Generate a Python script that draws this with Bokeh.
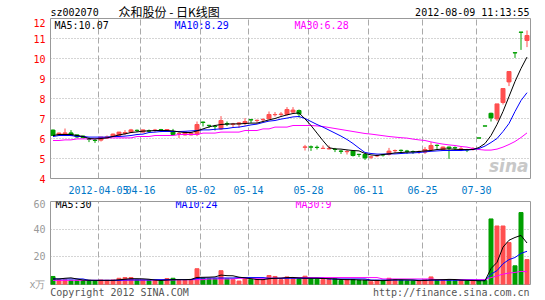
from bokeh.plotting import figure
from bokeh.models import Range1d, FixedTicker, Label, Grid, ColumnDataSource
from bokeh.layouts import column
from bokeh.embed import file_html
from bokeh.resources import INLINE

# ---- data ----
date_idx = [8, 15, 25, 33, 43, 53, 62, 71]
date_labels = ["2012-04-05", "04-16", "05-02", "05-14", "05-28", "06-11", "06-25", "07-30"]
price_ticks = [4, 5, 6, 7, 8, 9, 10, 11, 12]
vol_ticks = [0, 20, 40, 60]
vol_unit = "x万"

opens = [6.42, 6.18, 6.22, 6.28, 6.18, 6.12, 5.96, 5.91, 5.92, 6.03,
         6.10, 6.15, 6.25, 6.32, 6.41, 6.32, 6.38, 6.41, 6.44, 6.37,
         6.32, 6.24, 6.18, 6.18, 6.20, 6.82, 6.66, 6.61, 6.48, 6.74,
         6.71, 6.72, 6.75, 6.94, 6.90, 6.94, 6.98, 7.19, 7.20, 7.20,
         7.32, 7.40, 5.56, 5.58, 5.56, 5.50, 5.48, 5.46, 5.37, 5.34,
         5.37, 5.21, 5.20, 5.07, 5.13, 5.19, 5.20, 5.39, 5.41, 5.37,
         5.35, 5.34, 5.32, 5.45, 5.66, 5.43, 5.57, 5.54, 5.47, 5.44,
         5.47, 6.03, 6.63, 7.26, 6.98, 7.80, 8.83, 10.29, 11.32, 10.90]
highs = [6.45, 6.30, 6.50, 6.42, 6.20, 6.15, 6.05, 5.98, 6.08, 6.15,
         6.25, 6.33, 6.42, 6.48, 6.45, 6.45, 6.45, 6.48, 6.48, 6.47,
         6.48, 6.32, 6.35, 6.30, 6.85, 6.85, 6.68, 6.68, 7.12, 6.85,
         6.78, 6.82, 7.02, 6.98, 6.95, 7.02, 7.35, 7.32, 7.32, 7.57,
         7.57, 7.45, 5.68, 5.65, 5.65, 5.65, 5.65, 5.53, 5.43, 5.43,
         5.40, 5.23, 5.22, 5.13, 5.20, 5.23, 5.53, 5.45, 5.45, 5.43,
         5.40, 5.40, 5.57, 5.82, 5.70, 5.60, 5.60, 5.60, 5.57, 5.48,
         5.57, 6.03, 6.63, 7.29, 7.73, 8.50, 9.35, 10.29, 11.32, 11.40]
lows = [6.13, 6.15, 6.18, 6.12, 6.03, 6.00, 5.82, 5.78, 5.85, 5.98,
        6.08, 6.13, 6.18, 6.30, 6.32, 6.30, 6.30, 6.32, 6.32, 6.35,
        6.18, 6.02, 6.15, 6.15, 6.12, 6.60, 6.53, 6.40, 6.43, 6.62,
        6.57, 6.53, 6.65, 6.78, 6.78, 6.85, 6.98, 7.10, 7.12, 7.15,
        7.28, 7.05, 5.40, 5.38, 5.45, 5.50, 5.45, 5.32, 5.23, 5.20,
        5.10, 5.07, 4.93, 4.97, 5.07, 5.10, 5.15, 5.28, 5.28, 5.23,
        5.23, 5.23, 5.23, 5.37, 5.48, 5.40, 4.98, 5.40, 5.37, 5.32,
        5.40, 6.02, 6.62, 6.85, 6.87, 7.70, 8.62, 10.03, 10.43, 10.57]
closes = [6.15, 6.27, 6.28, 6.15, 6.08, 6.05, 5.95, 5.90, 6.07, 6.08,
          6.22, 6.32, 6.30, 6.43, 6.40, 6.43, 6.37, 6.42, 6.43, 6.45,
          6.20, 6.25, 6.32, 6.27, 6.70, 6.80, 6.65, 6.60, 6.90, 6.73,
          6.72, 6.78, 6.85, 6.93, 6.91, 6.95, 7.20, 7.20, 7.22, 7.45,
          7.42, 7.23, 5.58, 5.57, 5.55, 5.51, 5.50, 5.45, 5.36, 5.35,
          5.15, 5.20, 5.03, 5.08, 5.15, 5.18, 5.37, 5.40, 5.40, 5.36,
          5.34, 5.35, 5.45, 5.65, 5.65, 5.57, 5.52, 5.53, 5.48, 5.43,
          5.48, 6.02, 6.62, 7.03, 7.73, 8.50, 9.35, 10.28, 11.31, 11.15]
ma5 = [6.15, 6.20, 6.20, 6.20, 6.15, 6.10, 6.00, 5.98, 6.00, 6.03,
       6.10, 6.18, 6.23, 6.30, 6.33, 6.37, 6.38, 6.40, 6.40, 6.40,
       6.38, 6.33, 6.30, 6.30, 6.38, 6.48, 6.58, 6.65, 6.70, 6.72,
       6.73, 6.73, 6.75, 6.77, 6.77, 6.85, 6.93, 7.00, 7.10, 7.18,
       7.25, 7.28, 6.98, 6.65, 6.27, 5.89, 5.54, 5.48, 5.47, 5.43,
       5.40, 5.38, 5.25, 5.18, 5.15, 5.20, 5.23, 5.28, 5.30, 5.32,
       5.33, 5.35, 5.38, 5.40, 5.45, 5.47, 5.48, 5.46, 5.45, 5.45,
       5.45, 5.55, 5.75, 6.15, 6.70, 7.35, 8.10, 8.85, 9.50, 10.07]
ma10 = [6.10, 6.15, 6.15, 6.15, 6.10, 6.10, 6.07, 6.07, 6.07, 6.07,
        6.10, 6.10, 6.12, 6.15, 6.20, 6.22, 6.30, 6.32, 6.35, 6.35,
        6.35, 6.35, 6.36, 6.38, 6.40, 6.43, 6.43, 6.46, 6.48, 6.50,
        6.55, 6.57, 6.62, 6.68, 6.72, 6.80, 6.87, 6.90, 6.97, 7.02,
        7.08, 7.10, 7.00, 6.85, 6.70, 6.57, 6.42, 6.27, 6.12, 5.95,
        5.75, 5.52, 5.30, 5.25, 5.22, 5.22, 5.23, 5.23, 5.25, 5.27,
        5.28, 5.30, 5.33, 5.36, 5.38, 5.40, 5.40, 5.40, 5.40, 5.42,
        5.45, 5.50, 5.62, 5.80, 6.00, 6.35, 6.75, 7.35, 7.90, 8.29]
ma30 = [5.90, 5.90, 5.93, 5.93, 5.98, 5.98, 5.98, 5.98, 6.03, 6.03,
        6.03, 6.03, 6.03, 6.03, 6.10, 6.10, 6.10, 6.15, 6.15, 6.15,
        6.15, 6.20, 6.20, 6.20, 6.20, 6.27, 6.27, 6.27, 6.32, 6.32,
        6.32, 6.32, 6.40, 6.40, 6.40, 6.48, 6.48, 6.57, 6.57, 6.57,
        6.65, 6.65, 6.65, 6.65, 6.63, 6.60, 6.55, 6.50, 6.45, 6.40,
        6.35, 6.30, 6.25, 6.22, 6.18, 6.14, 6.10, 6.07, 6.04, 6.02,
        5.97, 5.93, 5.90, 5.83, 5.77, 5.72, 5.68, 5.65, 5.60, 5.57,
        5.50, 5.45, 5.42, 5.42, 5.47, 5.57, 5.70, 5.85, 6.05, 6.28]
volumes = [5.8, 3.3, 3.3, 3.0, 3.0, 3.0, 3.0, 2.8, 3.2, 3.0,
           3.2, 4.5, 5.0, 5.0, 3.2, 3.0, 3.0, 3.0, 2.5, 4.3,
           4.5, 3.0, 3.2, 3.5, 11.4, 4.5, 4.0, 4.0, 10.0, 4.0,
           3.5, 2.5, 4.0, 3.5, 3.5, 3.5, 6.5, 5.8, 3.5, 5.5,
           4.5, 4.0, 6.0, 4.0, 3.8, 3.5, 3.5, 4.0, 3.0, 3.5,
           3.5, 3.0, 3.0, 2.0, 3.0, 3.0, 4.5, 3.5, 3.0, 2.5,
           2.5, 2.5, 3.5, 5.5, 3.0, 3.0, 3.5, 3.0, 3.0, 2.5,
           2.5, 2.5, 3.0, 47.4, 42.3, 42.3, 30.3, 13.5, 52.0, 18.0]
vma5 = [4.0, 4.0, 4.5, 4.8, 4.0, 3.2, 3.1, 3.0, 3.0, 3.0,
        3.0, 3.4, 3.8, 4.2, 4.2, 4.1, 3.8, 3.2, 2.9, 3.2,
        3.5, 3.5, 3.5, 3.7, 5.1, 5.2, 5.3, 5.5, 6.8, 6.4,
        6.3, 5.3, 4.8, 4.2, 3.6, 3.5, 4.2, 4.5, 4.6, 5.0,
        5.1, 4.7, 4.6, 4.5, 4.5, 4.3, 4.2, 4.0, 3.6, 3.5,
        3.5, 3.3, 3.2, 3.0, 2.9, 2.8, 3.1, 3.4, 3.4, 3.3,
        3.2, 2.8, 2.9, 3.3, 3.4, 3.5, 3.7, 3.6, 3.2, 3.0,
        2.9, 2.7, 2.7, 11.5, 16.0, 27.0, 32.0, 34.0, 35.5, 30.0]
vma10 = [4.0, 4.0, 4.0, 4.0, 4.0, 4.0, 3.0, 3.0, 3.0, 3.0,
         3.0, 3.0, 3.3, 3.3, 3.3, 3.3, 3.3, 3.5, 3.5, 3.5,
         3.5, 3.5, 3.5, 3.5, 4.3, 4.7, 4.7, 4.7, 4.7, 4.7,
         4.7, 5.0, 5.0, 5.0, 5.0, 5.0, 4.5, 4.5, 4.5, 4.5,
         4.5, 4.5, 4.5, 4.5, 4.5, 4.5, 4.0, 4.0, 4.0, 4.0,
         4.0, 4.0, 4.0, 3.2, 3.2, 3.2, 3.2, 3.2, 3.2, 3.2,
         3.2, 3.1, 3.1, 3.1, 3.1, 3.1, 3.1, 3.1, 3.1, 3.1,
         3.1, 3.0, 3.0, 7.5, 10.0, 15.0, 18.0, 19.5, 22.5, 24.0]
vma30 = [3.0, 3.0, 3.0, 3.0, 3.0, 3.0, 3.0, 3.0, 3.0, 3.0,
         3.0, 3.0, 3.0, 3.2, 3.2, 3.2, 3.2, 3.2, 3.2, 3.2,
         3.2, 3.5, 3.5, 3.5, 3.5, 3.5, 4.0, 4.0, 4.0, 4.0,
         4.0, 4.5, 4.5, 4.5, 4.5, 4.5, 4.5, 4.5, 4.5, 5.0,
         5.0, 5.0, 5.0, 5.0, 5.0, 5.0, 5.0, 5.0, 5.0, 5.0,
         5.0, 5.0, 5.0, 5.0, 5.0, 4.0, 4.0, 4.0, 4.0, 4.0,
         4.0, 4.0, 4.0, 4.0, 3.5, 3.5, 3.5, 3.5, 3.5, 3.5,
         3.5, 3.5, 3.5, 5.0, 6.2, 7.5, 8.3, 8.7, 9.5, 9.2]

code = "sz002070"
title_text = "众和股份 - 日K线图"
stamp = "2012-08-09 11:13:55"
copyright_text = "Copyright 2012 SINA.COM"
url_text = "http://finance.sina.com.cn"

# ---- styling ----
RED = "#ff5050"
GREEN = "#009f00"
MONO = "DejaVu Sans Mono"
GRID = "#aaaaaa"
FRAME = "#999999"
W = 545
LEFT, RIGHT = 50, 15

n = len(closes)
xs = [i + 5 / 12 for i in range(n)]
colors = [RED if c >= o else GREEN for o, c in zip(opens, closes)]
src = ColumnDataSource(dict(
    x=xs, o=opens, h=highs, l=lows, c=closes,
    top=[max(o, c) for o, c in zip(opens, closes)],
    bot=[min(o, c) for o, c in zip(opens, closes)],
    color=colors, vol=volumes,
    ma5=ma5, ma10=ma10, ma30=ma30, vma5=vma5, vma10=vma10, vma30=vma30))


def style_common(p):
    p.background_fill_color = "white"
    p.border_fill_color = "white"
    p.outline_line_color = FRAME
    p.outline_line_width = 1
    p.title.visible = False


def plain_axis(ax, color, standoff):
    ax.axis_line_color = None
    ax.major_tick_line_color = None
    ax.minor_tick_line_color = None
    ax.major_tick_out = 0
    ax.major_tick_in = 0
    ax.minor_tick_out = 0
    ax.minor_tick_in = 0
    ax.major_label_text_font = MONO
    ax.major_label_text_font_size = "10px"
    ax.major_label_text_color = color
    ax.major_label_standoff = standoff


def lab(fig, x, y, text, color="black", align="left", font=MONO, size="10px", style="normal"):
    fig.add_layout(Label(x=x, y=y, x_units="screen", y_units="screen", text=text,
                         text_color=color, text_align=align, text_baseline="middle",
                         text_font=font, text_font_size=size, text_font_style=style))


# ---- header strip (its frame lines up with the panes below: x 50..530) ----
HH = 18
hdr = figure(width=W, height=HH, x_range=Range1d(0, 1), y_range=Range1d(0, 1),
             output_backend="svg", toolbar_location=None,
             x_axis_location=None, y_axis_location=None,
             min_border_left=LEFT, min_border_right=RIGHT,
             min_border_top=0, min_border_bottom=0)
style_common(hdr)
hdr.outline_line_color = None
hdr.xgrid.visible = False
hdr.ygrid.visible = False
lab(hdr, 0, HH - 11.5, code)
lab(hdr, 68, HH - 10.5, title_text, font="Noto Sans CJK SC", size="12px")
lab(hdr, 479, HH - 12, stamp, align="right")

# ---- price pane: frame y 18..178 ----
p = figure(width=W, height=180, x_range=Range1d(0, n), y_range=Range1d(4, 12),
           output_backend="svg", toolbar_location=None,
           min_border_left=LEFT, min_border_right=RIGHT, min_border_top=0, min_border_bottom=20)
style_common(p)
p.yaxis.ticker = FixedTicker(ticks=price_ticks)
p.xaxis.ticker = FixedTicker(ticks=date_idx)
p.xaxis.major_label_overrides = {k: v for k, v in zip(date_idx, date_labels)}
plain_axis(p.yaxis[0], "#ff0000", 5)
plain_axis(p.xaxis[0], "#0078c8", 7)
p.ygrid.grid_line_color = GRID
p.ygrid.grid_line_dash = "1 2"
p.xgrid.grid_line_color = GRID
p.xgrid.grid_line_dash = "6 3"

p.segment(x0="x", y0="l", x1="x", y1="h", color="color", line_width=1, source=src)
p.vbar(x="x", top="top", bottom="bot", width=4 / 6, fill_color="color", line_color="color",
       line_width=1, source=src)
p.line("x", "ma30", color="#ff00ff", line_width=1, source=src)
p.line("x", "ma10", color="#0000ff", line_width=1, source=src)
p.line("x", "ma5", color="#000000", line_width=1, source=src)

lab(p, 4, 153, "MA5:%.2f" % ma5[-1], "#000000")
lab(p, 124, 153, "MA10:%.2f" % ma10[-1], "#0000ff")
lab(p, 244, 153, "MA30:%.2f" % ma30[-1], "#ff00ff")
lab(p, 478, 13, "sina", "#c8c8c8", align="right", font="DejaVu Sans", size="17px", style="bold italic")

# ---- volume pane: frame y 201..286 (footer texts carried by its bottom axis) ----
q = figure(width=W, height=102, x_range=p.x_range, y_range=Range1d(0, 60),
           output_backend="svg", toolbar_location=None,
           min_border_left=LEFT, min_border_right=RIGHT, min_border_top=3, min_border_bottom=14)
style_common(q)
q.yaxis.ticker = FixedTicker(ticks=vol_ticks)
q.yaxis.major_label_overrides = {0: vol_unit}
plain_axis(q.yaxis[0], "#999999", 5)
q.ygrid.grid_line_color = GRID
q.ygrid.grid_line_dash = "1 2"
q.xgrid.visible = False
q.add_layout(Grid(dimension=0, ticker=FixedTicker(ticks=date_idx),
                  grid_line_color=GRID, grid_line_dash="6 3"))
foot_pos = [11.5, 66.8]
q.xaxis.ticker = FixedTicker(ticks=foot_pos)
q.xaxis.major_label_overrides = {foot_pos[0]: copyright_text, foot_pos[1]: url_text}
plain_axis(q.xaxis[0], "#555555", 2)

q.vbar(x="x", top="vol", bottom=0, width=4 / 6, fill_color="color", line_color="color",
       line_width=1, source=src)
q.line("x", "vma30", color="#ff00ff", line_width=1, source=src)
q.line("x", "vma10", color="#0000ff", line_width=1, source=src)
q.line("x", "vma5", color="#000000", line_width=1, source=src)

lab(q, 5, 80, "MA5:%d" % round(vma5[-1]), "#000000")
lab(q, 125, 80, "MA10:%d" % round(vma10[-1]), "#0000ff")
lab(q, 245, 80, "MA30:%d" % int(vma30[-1]), "#ff00ff")

layout = column(hdr, p, q, spacing=0)
open("out.html", "w").write(file_html(layout, INLINE))
